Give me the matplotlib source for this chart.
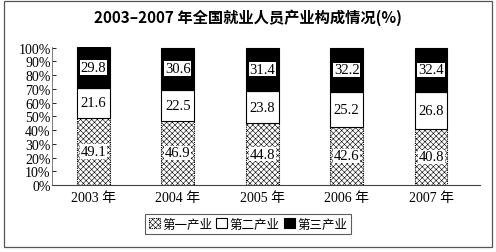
import numpy as np
import matplotlib.pyplot as plt
from matplotlib.patches import Rectangle

plt.rcParams['font.family'] = ['Liberation Serif', 'Noto Sans CJK SC']
plt.rcParams['hatch.linewidth'] = 0.4
plt.rcParams['hatch.color'] = '#8a8a8a'

years = ['2003 年', '2004 年', '2005 年', '2006 年', '2007 年']
primary = [49.1, 46.9, 44.8, 42.6, 40.8]
secondary = [21.6, 22.5, 23.8, 25.2, 26.8]
tertiary = [29.8, 30.6, 31.4, 32.2, 32.4]
series_names = ['第一产业', '第二产业', '第三产业']

fig = plt.figure(figsize=(4.96, 2.53), dpi=100)
# outer frame
fig.patches.append(Rectangle((4 / 496, 1 - 248 / 253), 488 / 496, 246 / 253,
                             transform=fig.transFigure, fill=False,
                             edgecolor='#555555', linewidth=0.9))

ax = fig.add_axes([52 / 496, 1 - 186 / 253, 428 / 496, 138 / 253])
x = np.arange(len(years))
w = 0.39

b1 = ax.bar(x, primary, w, color='white', edgecolor='black', hatch='xxxxxx',
            linewidth=0.8, linestyle=(0, (1, 1)), label=series_names[0])
b2 = ax.bar(x, secondary, w, bottom=primary, color='white', edgecolor='black',
            linewidth=0.8, label=series_names[1])
bottom3 = np.array(primary) + np.array(secondary)
b3 = ax.bar(x, tertiary, w, bottom=bottom3, color='black', edgecolor='black',
            linewidth=0.8, label=series_names[2])

for vals, bots in [(primary, np.zeros(5)), (secondary, np.array(primary)), (tertiary, bottom3)]:
    for xi, v, b in zip(x, vals, bots):
        ax.text(xi, b + v / 2, f'{v:.1f}', ha='center', va='center', fontsize=10.5,
                bbox=dict(facecolor='white', edgecolor='none', pad=0.5))

ax.set_xlim(-0.49, 4.58)
ax.set_ylim(0, 100.5)
ax.set_yticks(range(0, 101, 10))
ax.set_yticklabels([f'{t}%' for t in range(0, 101, 10)], fontsize=10)
ax.set_xticks(x)
ax.set_xticklabels(years, fontsize=10)
ax.tick_params(axis='x', length=0, pad=4)
ax.tick_params(axis='y', length=3, direction='in', pad=1, width=0.6)
for s in ['top', 'right']:
    ax.spines[s].set_visible(False)
ax.spines['left'].set_linewidth(0.6)
ax.spines['bottom'].set_linewidth(0.8)
ax.spines['left'].set_color('#666666')
ax.spines['bottom'].set_color('#444444')

fig.text(0.5, 1 - 18 / 253, '2003–2007 年全国就业人员产业构成情况(%)', ha='center',
         va='center', fontsize=11, fontweight='bold',
         family=['Noto Sans CJK SC', 'DejaVu Sans'])

leg = fig.legend(handles=[b1, b2, b3], labels=series_names, loc='center',
                 bbox_to_anchor=(248 / 496, 1 - 225 / 253), ncol=3, frameon=True,
                 fancybox=False, edgecolor='#333333', handlelength=0.9,
                 handleheight=0.9, handletextpad=0.2, columnspacing=0.3,
                 borderpad=0.3, prop={'family': 'Noto Sans CJK SC', 'size': 9})
leg.get_frame().set_linewidth(0.8)

fig.savefig('out.png', dpi=100)
